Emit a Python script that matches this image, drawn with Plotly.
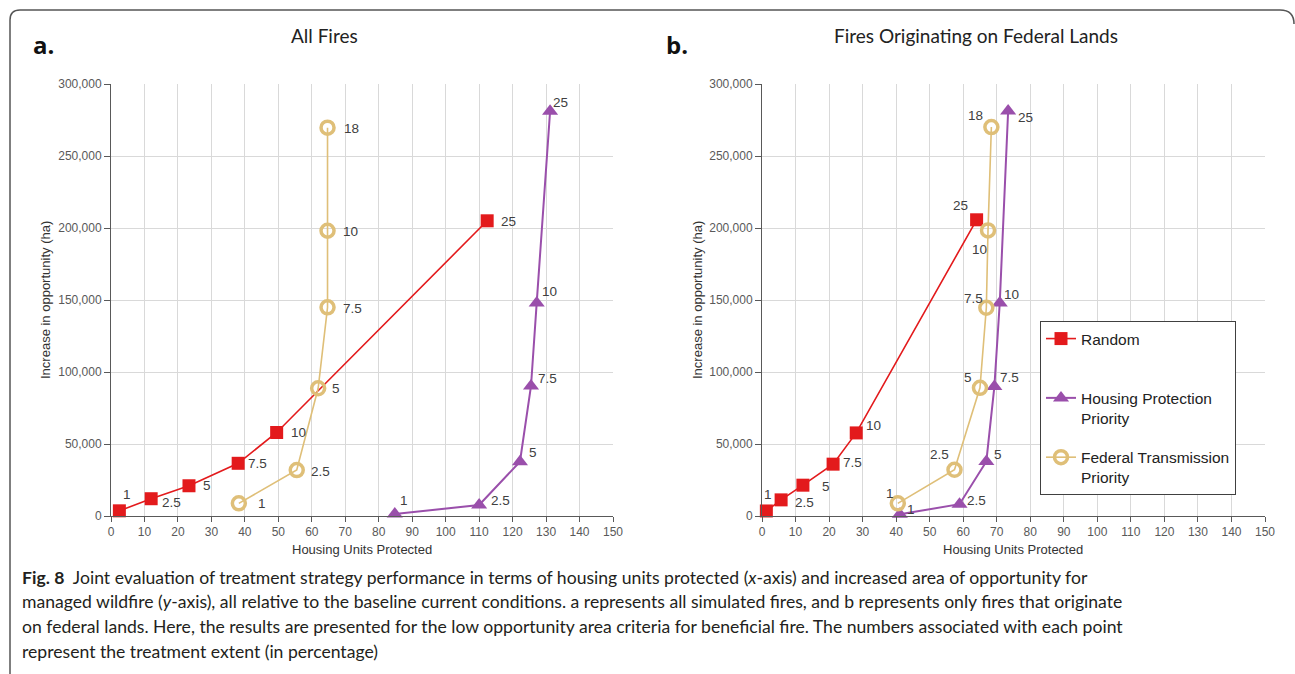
import plotly.graph_objects as go

# ---------------- data ----------------
extent_std = ["1", "2.5", "5", "7.5", "10", "25"]
extent_fed = ["1", "2.5", "5", "7.5", "10", "18"]

# Panel a: All Fires
a_random_x = [2.5, 12, 23.3, 38, 49.5, 112.4]
a_random_y = [3600, 12000, 21000, 36600, 58000, 205000]
a_housing_x = [84.8, 110, 122.2, 125.5, 127.2, 131.2]
a_housing_y = [1400, 7600, 37700, 90300, 148000, 281000]
a_federal_x = [38.2, 55.5, 61.9, 64.7, 64.7, 64.7]
a_federal_y = [8800, 31900, 88700, 144900, 198100, 269700]

# Panel b: Fires Originating on Federal Lands
b_random_x = [1.3, 5.7, 12.2, 21.2, 28.1, 64.0]
b_random_y = [3500, 11200, 21400, 36000, 57700, 205700]
b_housing_x = [41.1, 58.9, 66.9, 69.3, 70.9, 73.4]
b_housing_y = [1200, 8200, 37900, 90000, 148000, 281200]
b_federal_x = [40.5, 57.4, 65.0, 66.9, 67.4, 68.4]
b_federal_y = [8800, 32100, 89000, 144600, 198300, 270100]

x_ticks = list(range(0, 151, 10))
y_ticks = list(range(0, 300001, 50000))

# ---------------- styles ----------------
RED = "#e31a1c"
PURPLE = "#9a4fab"
TAN = "#dfbf78"
LABEL_COLOR = "#404040"
AXIS_COLOR = "#595959"
GRID_COLOR = "#d9d9d9"

W, H = 1295, 674
ML, MR, MT, MB = 111, 30, 84, 158
PW = W - ML - MR
PH = H - MT - MB


def px(x):
    return (x - ML) / PW


def py(y):
    return (H - MB - y) / PH


# label offsets (dx, dy in pixels, dy positive = down)
off_a_random = [(8, -16), (20, 4), (18, 0), (19, 0), (22, 0), (21, 1)]
off_a_housing = [(9, -13), (21, -5), (13, -9), (16, -7), (13, -11), (10, -9)]
off_a_federal = [(23, 0), (24, 1), (18, 0), (25, 1), (23, 1), (24, 1)]
off_b_random = [(2, -16), (23, 3), (23, 1), (19, -2), (17, -7), (-16, -14)]
off_b_housing = [(11, -5), (17, -4), (12, -7), (15, -9), (12, -8), (17, 6)]
off_b_federal = [(-8, -10), (-15, -15), (-12, -10), (-13, -9), (-9, 19), (-16, -12)]

fig = go.Figure()


def add_series(x, y, name, color, symbol, size, lw, xa, ya, showlegend, mline=None):
    marker = dict(symbol=symbol, size=size, color=color)
    if mline is not None:
        marker["line"] = dict(width=mline, color=color)
    fig.add_trace(go.Scatter(
        x=x, y=y, mode="lines+markers", name=name,
        line=dict(color=color, width=lw),
        marker=marker, xaxis=xa, yaxis=ya,
        showlegend=showlegend, legendgroup=name, cliponaxis=False,
    ))


def add_labels(x, y, labels, offs, xref, yref):
    for xi, yi, t, (dx, dy) in zip(x, y, labels, offs):
        fig.add_annotation(
            x=xi, y=yi, xref=xref, yref=yref, text=t, showarrow=False,
            xshift=dx, yshift=-dy,
            font=dict(family="Liberation Sans, Arial", size=13.5, color=LABEL_COLOR),
        )


names = ["Random<br> ", "Housing Protection<br>Priority", "Federal Transmission<br>Priority"]

# Panel a
add_series(a_random_x, a_random_y, names[0], RED, "square", 13, 1.6, "x", "y", False)
add_series(a_housing_x, a_housing_y, names[1], PURPLE, "triangle-up", 14, 2, "x", "y", False)
add_series(a_federal_x, a_federal_y, names[2], TAN, "circle-open", 13, 1.6, "x", "y", False, mline=3.5)
# Panel b
add_series(b_random_x, b_random_y, names[0], RED, "square", 13, 1.6, "x2", "y2", True)
add_series(b_housing_x, b_housing_y, names[1], PURPLE, "triangle-up", 14, 2, "x2", "y2", True)
add_series(b_federal_x, b_federal_y, names[2], TAN, "circle-open", 13, 1.6, "x2", "y2", True, mline=3.5)

add_labels(a_random_x, a_random_y, extent_std, off_a_random, "x", "y")
add_labels(a_housing_x, a_housing_y, extent_std, off_a_housing, "x", "y")
add_labels(a_federal_x, a_federal_y, extent_fed, off_a_federal, "x", "y")
add_labels(b_random_x, b_random_y, extent_std, off_b_random, "x2", "y2")
add_labels(b_housing_x, b_housing_y, extent_std, off_b_housing, "x2", "y2")
add_labels(b_federal_x, b_federal_y, extent_fed, off_b_federal, "x2", "y2")

tick_font = dict(family="Liberation Sans, Arial", size=12, color=AXIS_COLOR)
xaxis_common = dict(
    range=[0, 150], tickvals=x_ticks, showgrid=True, gridcolor=GRID_COLOR, gridwidth=1,
    showline=True, linecolor=AXIS_COLOR, linewidth=1, ticks="outside", ticklen=5,
    tickcolor=AXIS_COLOR, tickfont=tick_font, zeroline=False, mirror=False,
)
yaxis_common = dict(
    range=[0, 300000], tickvals=y_ticks, tickformat=",", showgrid=True, gridcolor=GRID_COLOR,
    gridwidth=1, showline=True, linecolor=AXIS_COLOR, linewidth=1, ticks="outside", ticklen=6,
    tickcolor=AXIS_COLOR, tickfont=tick_font, zeroline=False,
)

dom_a = [0, px(613)]
dom_b = [px(762), 1]

fig.update_layout(
    width=W, height=H,
    margin=dict(l=ML, r=MR, t=MT, b=MB, pad=0),
    paper_bgcolor="white", plot_bgcolor="white",
    xaxis=dict(domain=dom_a, anchor="y", **xaxis_common),
    yaxis=dict(domain=[0, 1], anchor="x", **yaxis_common),
    xaxis2=dict(domain=dom_b, anchor="y2", **xaxis_common),
    yaxis2=dict(domain=[0, 1], anchor="x2", **yaxis_common),
    legend=dict(
        x=px(1040), y=py(321), xanchor="left", yanchor="top",
        bgcolor="white", bordercolor="#404040", borderwidth=1,
        font=dict(family="Liberation Sans, Arial", size=15.5, color="#222222"),
        traceorder="grouped", tracegroupgap=16, valign="top",
        itemwidth=30,
    ),
)

# Titles and axis titles
title_font = dict(family="Lato, Open Sans", size=19, color="#222222")
fig.add_annotation(x=px(324), y=py(36), xref="paper", yref="paper", text="All Fires",
                   showarrow=False, font=title_font, xanchor="center", yanchor="middle")
fig.add_annotation(x=px(976), y=py(36), xref="paper", yref="paper",
                   text="Fires Originating on Federal Lands",
                   showarrow=False, font=title_font, xanchor="center", yanchor="middle")
panel_font = dict(family="Open Sans, Lato", size=24, color="#111111")
fig.add_annotation(x=px(31), y=py(44), xref="paper", yref="paper", text="<b>a.</b>",
                   showarrow=False, font=panel_font, xanchor="left", yanchor="middle")
fig.add_annotation(x=px(664), y=py(44), xref="paper", yref="paper", text="<b>b.</b>",
                   showarrow=False, font=panel_font, xanchor="left", yanchor="middle")

ax_font = dict(family="Liberation Sans, Arial", size=13, color="#333333")
for xc in (362, 1013):
    fig.add_annotation(x=px(xc), y=py(549), xref="paper", yref="paper",
                       text="Housing Units Protected", showarrow=False, font=ax_font,
                       xanchor="center", yanchor="middle")
for xc in (45, 697):
    fig.add_annotation(x=px(xc), y=py(300), xref="paper", yref="paper",
                       text="Increase in opportunity (ha)", showarrow=False, font=ax_font,
                       textangle=-90, xanchor="center", yanchor="middle")

# Caption
cap_font = dict(family="Lato, Open Sans", size=17.6, color="#231f20")
caption_lines = [
    "<b>Fig. 8</b>  Joint evaluation of treatment strategy performance in terms of housing units protected (<i>x</i>-axis) and increased area of opportunity for",
    "managed wildfire (<i>y</i>-axis), all relative to the baseline current conditions. a represents all simulated fires, and b represents only fires that originate",
    "on federal lands. Here, the results are presented for the low opportunity area criteria for beneficial fire. The numbers associated with each point",
    "represent the treatment extent (in percentage)",
]
for i, line in enumerate(caption_lines):
    fig.add_annotation(x=px(20), y=py(577 + 24.7 * i), xref="paper", yref="paper",
                       text=line, showarrow=False, font=cap_font,
                       xanchor="left", yanchor="middle", align="left")

# Frame border
path = "M {},{} Q {},{} {},{} L {},{} Q {},{} {},{} L {},{}".format(
    px(1294), py(24), px(1294), py(10), px(1280), py(10),
    px(20), py(10), px(10), py(10), px(10), py(20),
    px(10), py(674),
)
fig.add_shape(type="path", path=path, xref="paper", yref="paper",
              line=dict(color="#555555", width=1.5), layer="above")

fig.write_html("out.html")
